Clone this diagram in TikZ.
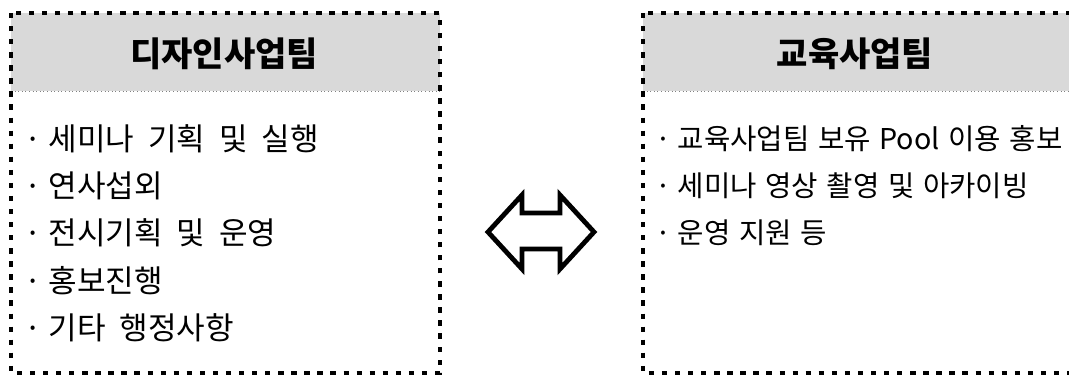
\documentclass[tikz,border=0pt]{standalone}
\usepackage{fontspec}
\setmainfont{Noto Sans CJK KR}
\usepackage{tikz}
\usetikzlibrary{positioning}

\definecolor{headgray}{HTML}{D9D9D9}
\newcommand{\itemdot}{·\hspace{0.22em}}
\newcommand{\wideskip}{\spaceskip 0.45em\relax}
\newcommand{\eduskip}{\spaceskip 0.3em\relax}

\tikzset{
    teambox/.style={draw=black, line width=3pt, dash pattern=on 4pt off 5.8pt},
    headrule/.style={draw=gray, line width=0.7pt, dotted},
    teamtitle/.style={font=\fontsize{25.5}{30}\selectfont\bfseries, inner sep=0pt},
    teamitem/.style={anchor=west, font={\fontsize{23.3}{28}\selectfont\wideskip}, inner sep=0pt},
    eduitem/.style={teamitem, font={\fontsize{21.5}{26}\selectfont\eduskip}},
    swaparrow/.style={draw=black, fill=white, line width=3.6pt, line join=miter}
}

\begin{document}
\begin{tikzpicture}[x=0.75pt,y=-0.75pt]
        \useasboundingbox (0,0) rectangle (1069,375);
        \begin{scope}
            \fill[headgray] (11,13) rectangle (440,91);
            \draw[headrule] (11,91) -- (440,91);
            \draw[teambox] (11,13) rectangle (440,373);
            \node[teamtitle] (designtitle) at (224,54) {디자인사업팀};
            \node[teamitem] (design1) at (24,139) {\itemdot 세미나 기획 및 실행};
            \node[teamitem] (design2) at (24,186) {\itemdot 연사섭외};
            \node[teamitem] (design3) at (24,233) {\itemdot 전시기획 및 운영};
            \node[teamitem] (design4) at (24,281) {\itemdot 홍보진행};
            \node[teamitem] (design5) at (24,328) {\itemdot 기타 행정사항};
        \end{scope}
        \begin{scope}
            \clip (0,0) rectangle (1069,375);
            \fill[headgray] (643,13) rectangle (1072,91);
            \draw[headrule] (643,91) -- (1072,91);
            \draw[teambox] (643,13) rectangle (1072,373);
            \node[teamtitle] (edutitle) at (855,54) {교육사업팀};
            \node[eduitem] (edu1) at (655,139) {\itemdot 교육사업팀 보유 Pool 이용 홍보};
            \node[eduitem] (edu2) at (655,186) {\itemdot 세미나 영상 촬영 및 아카이빙};
            \node[eduitem] (edu3) at (655,233) {\itemdot 운영 지원 등};
        \end{scope}
        % arrow between the two teams
        \draw[swaparrow] (488,232) -- (522,195) -- (522,213) -- (560,213) -- (560,195)
            -- (594,232) -- (560,269) -- (560,249) -- (522,249) -- (522,269) -- cycle;
    \end{tikzpicture}
\end{document}
